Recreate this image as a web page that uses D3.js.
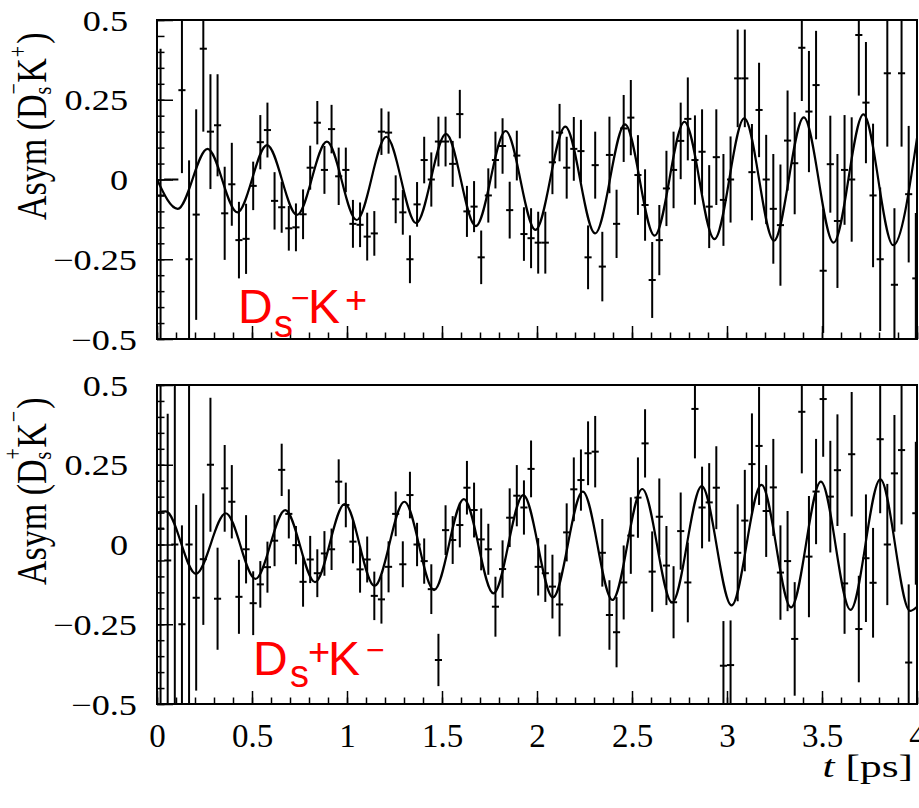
<!DOCTYPE html>
<html>
<head>
<meta charset="utf-8">
<script src="https://cdn.jsdelivr.net/npm/d3@7"></script>
<style>
  body { margin: 0; background: #fff; }
  svg { display: block; }
</style>
</head>
<body>
<div id="chart"></div>
<script>
// histogram binning: 0.0375 ps bins starting at t = 0
const binStart = 0;
const binWidth = 0.0375;

// Ds- K+ asymmetry per bin (value, error)
const dsmValues = [-0.05,0,0,0.28,-0.25,-0.11,0.41,0.15,0.17,-0.106,
  -0.015,-0.19,-0.186,-0.02,0.117,0.155,-0.067,-0.087,-0.153,-0.15,
  -0.109,0.037,0.178,0.03,0.158,0.01,0.03,-0.139,-0.142,-0.179,
  -0.169,0.15,0.147,-0.062,-0.103,-0.25,-0.078,0.061,0,0.119,
  0.119,0.049,0.205,-0.1,-0.085,-0.244,-0.05,0.061,0.105,-0.096,
  0.075,-0.171,-0.184,-0.198,-0.198,0.054,0.147,0.037,0.096,0.089,
  -0.244,0.045,-0.273,0.077,-0.139,0.16,0.194,0.014,-0.08,-0.315,
  -0.19,-0.028,0.03,0.121,0.19,0.061,0.087,-0.085,0.07,-0.064,
  0,0.317,0.317,0.023,0.218,0,-0.092,-0.143,0.122,0.051,
  0.413,0.213,0.296,-0.286,0.048,-0.13,0.03,0,0.453,0.241,
  -0.05,-0.25,0.333,-0.33,0.333,-0.046,-0.31];
const dsmErrors = [0.46,0,0,0.26,0.31,0.33,0.26,0.18,0.16,0.146,
  0.13,0.12,0.11,0.076,0.085,0.086,0.09,0.08,0.07,0.075,
  0.078,0.069,0.068,0.075,0.076,0.09,0.07,0.075,0.07,0.075,
  0.07,0.073,0.066,0.075,0.07,0.075,0.07,0.073,0.085,0.078,
  0.078,0.072,0.076,0.08,0.08,0.084,0.085,0.089,0.087,0.089,
  0.078,0.084,0.094,0.097,0.097,0.1,0.09,0.097,0.1,0.098,
  0.1,0.105,0.109,0.12,0.107,0.105,0.118,0.125,0.112,0.119,
  0.11,0.118,0.12,0.12,0.13,0.14,0.133,0.13,0.15,0.144,
  0.135,0.153,0.153,0.151,0.148,0.14,0.172,0.19,0.157,0.16,
  0.167,0.19,0.17,0.195,0.152,0.21,0.172,0.195,0.19,0.19,
  0.225,0.225,0.23,0.24,0.23,0.214,0.205];

// Ds+ K- asymmetry per bin (value, error)
const dspValues = [0.05,-0.05,0,-0.25,0,-0.167,-0.046,0.25,-0.17,0.176,
  0.134,-0.164,-0.015,-0.184,-0.125,-0.071,0.012,0.234,0.096,-0.002,
  -0.117,-0.047,-0.09,-0.028,-0.015,0.197,0.124,0.009,-0.078,-0.047,
  -0.161,-0.172,-0.07,0.096,-0.062,0.155,0,-0.052,-0.14,-0.362,
  0.045,0.014,0.061,0.178,0.108,0.016,-0.015,-0.195,-0.077,0.084,
  0.153,0.116,0.237,-0.07,-0.09,-0.132,-0.188,0.038,0.173,0.202,
  0.286,0.291,-0.026,-0.221,-0.275,-0.119,0.028,0.147,0.317,-0.085,
  0.087,-0.066,-0.181,0.042,-0.119,0.425,0.116,0.132,0.178,-0.38,
  -0.378,-0.026,0.075,0.252,0.309,0.105,0.179,-0.088,-0.052,-0.296,
  0.416,-0.038,0.166,0.456,0.15,0.233,-0.122,0.283,-0.265,-0.043,
  -0.12,0.33,0,0.223,0.296,-0.37,0.098];
const dspErrors = [0.6,0.46,0.6,0.31,0.6,0.291,0.206,0.21,0.16,0.136,
  0.115,0.116,0.107,0.1,0.073,0.08,0.08,0.082,0.077,0.06,
  0.078,0.074,0.075,0.07,0.065,0.07,0.07,0.068,0.073,0.072,
  0.076,0.076,0.08,0.07,0.072,0.073,0.068,0.071,0.078,0.082,
  0.078,0.075,0.07,0.084,0.086,0.097,0.08,0.094,0.09,0.092,
  0.096,0.085,0.089,0.09,0.09,0.1,0.1,0.091,0.1,0.096,
  0.1,0.112,0.106,0.109,0.11,0.116,0.12,0.126,0.107,0.126,
  0.12,0.124,0.113,0.121,0.125,0.155,0.128,0.123,0.13,0.14,
  0.14,0.152,0.159,0.159,0.185,0.144,0.152,0.148,0.157,0.178,
  0.193,0.19,0.165,0.181,0.175,0.175,0.158,0.195,0.167,0.2,
  0.172,0.232,0.19,0.183,0.233,0.245,0.224];

// fit curves, read at start, turning points and end
const dsmFitT = [0,0.109,0.266,0.423,0.579,0.737,0.894,1.051,1.207,1.364,1.521,1.678,1.835,
  1.992,2.149,2.306,2.463,2.619,2.776,2.934,3.091,3.247,3.404,3.561,3.718,3.875,4.0];
const dsmFitA = [0,-0.092,0.096,-0.103,0.108,-0.111,0.119,-0.127,0.134,-0.137,0.143,-0.146,0.152,
  -0.158,0.166,-0.169,0.173,-0.176,0.181,-0.187,0.192,-0.192,0.195,-0.198,0.204,-0.206,0.13];
const dspFitT = [0,0.047,0.205,0.362,0.518,0.675,0.832,0.988,1.145,1.302,1.458,1.615,1.771,1.928,
  2.084,2.241,2.397,2.554,2.711,2.867,3.024,3.181,3.337,3.494,3.650,3.807,3.963,4.0];
const dspFitA = [0.10,0.104,-0.092,0.098,-0.108,0.108,-0.118,0.127,-0.130,0.134,-0.143,0.142,-0.153,0.155,
  -0.166,0.166,-0.174,0.174,-0.182,0.183,-0.191,0.187,-0.197,0.197,-0.205,0.204,-0.208,-0.195];

const xDomain = [0, 4];
const yDomain = [-0.5, 0.5];
const yMajorTicks = [-0.5, -0.25, 0, 0.25, 0.5];

const serif = "'Liberation Serif', 'Times New Roman', serif";
const sans = "'Liberation Sans', Arial, sans-serif";

const svg = d3.select("#chart")
    .append("svg")
    .attr("width", 919)
    .attr("height", 808);

const x = d3.scaleLinear().domain(xDomain).range([157, 917]);
const fmt = d3.format("~g");

const panels = [
    {
        top: 20, values: dsmValues, errors: dsmErrors, fitT: dsmFitT, fitA: dsmFitA,
        title: [
            {t: "Asym (D", s: 34},
            {t: "\u2212", s: 20, dy: -19},
            {t: "s", s: 20, dx: -11.3, dy: 23},
            {t: "K", s: 34, dx: 4, dy: -4},
            {t: "+", s: 20, dx: 1, dy: -16},
            {t: ")", s: 34, dx: 2, dy: 16}
        ],
        label: [
            {t: "D", s: 48, x: 238, y: 323},
            {t: "s", s: 38, x: 274, y: 337},
            {t: "\u2212", s: 32, x: 291, y: 309},
            {t: "K", s: 48, x: 308, y: 323},
            {t: "+", s: 38, x: 345, y: 313}
        ],
        xLabels: false
    },
    {
        top: 385, values: dspValues, errors: dspErrors, fitT: dspFitT, fitA: dspFitA,
        title: [
            {t: "Asym (D", s: 34},
            {t: "+", s: 20, dy: -20},
            {t: "s", s: 20, dx: -11.3, dy: 24},
            {t: "K", s: 34, dx: 4, dy: -4},
            {t: "\u2212", s: 20, dx: 1, dy: -19},
            {t: ")", s: 34, dx: 2, dy: 19}
        ],
        label: [
            {t: "D", s: 48, x: 253, y: 675},
            {t: "s", s: 38, x: 290, y: 687},
            {t: "+", s: 38, x: 308, y: 665},
            {t: "K", s: 48, x: 328, y: 675},
            {t: "\u2212", s: 32, x: 366, y: 661}
        ],
        xLabels: true
    }
];

panels.forEach((p, pi) => {
    const bottom = p.top + 319;
    const y = d3.scaleLinear().domain(yDomain).range([bottom, p.top]);

    svg.append("clipPath")
        .attr("id", "clip" + pi)
        .append("rect")
        .attr("x", x(xDomain[0]))
        .attr("y", p.top)
        .attr("width", x(xDomain[1]) - x(xDomain[0]))
        .attr("height", bottom - p.top);

    const plot = svg.append("g").attr("clip-path", `url(#clip${pi})`);

    const bins = p.values.map((v, i) => ({
        lo: binStart + i * binWidth,
        hi: binStart + (i + 1) * binWidth,
        v: v,
        e: p.errors[i]
    }));

    // error bars
    plot.selectAll(".ebar")
        .data(bins.filter(d => d.e > 0))
        .enter()
        .append("line")
        .attr("class", "ebar")
        .attr("x1", d => x((d.lo + d.hi) / 2))
        .attr("x2", d => x((d.lo + d.hi) / 2))
        .attr("y1", d => y(d.v + d.e))
        .attr("y2", d => y(d.v - d.e))
        .attr("stroke", "#000")
        .attr("stroke-width", 2);

    // bin width markers
    plot.selectAll(".hbar")
        .data(bins)
        .enter()
        .append("line")
        .attr("class", "hbar")
        .attr("x1", d => x(d.lo))
        .attr("x2", d => x(d.hi))
        .attr("y1", d => y(d.v))
        .attr("y2", d => y(d.v))
        .attr("stroke", "#000")
        .attr("stroke-width", 2);

    // fit curve
    const fit = p.fitT.map((t, i) => [t, p.fitA[i]]);
    plot.append("path")
        .datum(fit)
        .attr("d", d3.line()
            .x(d => x(d[0]))
            .y(d => y(d[1]))
            .curve(d3.curveMonotoneX))
        .attr("fill", "none")
        .attr("stroke", "#000")
        .attr("stroke-width", 2.2);

    // y axis: major + minor ticks pointing inwards
    const gy = svg.append("g")
        .attr("transform", `translate(${x(xDomain[0])},0)`)
        .call(d3.axisLeft(y).tickValues(yMajorTicks).tickFormat(fmt).tickSize(-16).tickPadding(0));
    gy.select(".domain").remove();
    gy.selectAll(".tick line").attr("stroke-width", 1.5);
    gy.selectAll(".tick text")
        .attr("x", 0)
        .attr("dy", "0.35em")
        .attr("text-anchor", "end")
        .attr("transform", d => `translate(${d < 0 ? -20 : -29},0) scale(1.25,1)`)
        .style("font-family", serif)
        .style("font-size", "29px")
        .style("fill", "#000");

    const gyMinor = svg.append("g")
        .attr("transform", `translate(${x(xDomain[0])},0)`)
        .call(d3.axisLeft(y).ticks(20).tickFormat("").tickSize(-7.5));
    gyMinor.select(".domain").remove();
    gyMinor.selectAll(".tick line").attr("stroke-width", 1.5);

    // x axis: ticks pointing up
    const gx = svg.append("g")
        .attr("transform", `translate(0,${bottom})`)
        .call(d3.axisBottom(x).ticks(8).tickFormat(p.xLabels ? fmt : "").tickSize(-13).tickPadding(20));
    gx.select(".domain").remove();
    gx.selectAll(".tick line").attr("stroke-width", 1.5);
    gx.selectAll(".tick text")
        .style("font-family", serif)
        .style("font-size", "33px")
        .style("fill", "#000");

    const gxMinor = svg.append("g")
        .attr("transform", `translate(0,${bottom})`)
        .call(d3.axisBottom(x).ticks(40).tickFormat("").tickSize(-6.5));
    gxMinor.select(".domain").remove();
    gxMinor.selectAll(".tick line").attr("stroke-width", 1.5);

    // frame
    svg.append("rect")
        .attr("x", x(xDomain[0]))
        .attr("y", p.top)
        .attr("width", x(xDomain[1]) - x(xDomain[0]))
        .attr("height", bottom - p.top)
        .attr("fill", "none")
        .attr("stroke", "#000")
        .attr("stroke-width", 2);

    // y title (rotated, reading upwards, glyphs widened like the original)
    const title = svg.append("text")
        .attr("transform", `translate(46,${p.top + 200}) rotate(-90) scale(1,1.25)`)
        .attr("text-anchor", "start")
        .style("font-family", serif)
        .style("fill", "#000");
    p.title.forEach(seg => {
        title.append("tspan")
            .attr("dx", seg.dx || 0)
            .attr("dy", seg.dy || 0)
            .style("font-size", seg.s + "px")
            .text(seg.t);
    });

    // red decay-mode label
    p.label.forEach(seg => {
        svg.append("text")
            .attr("x", seg.x)
            .attr("y", seg.y)
            .style("font-family", sans)
            .style("font-size", seg.s + "px")
            .style("fill", "#ff0000")
            .text(seg.t);
    });
});

// x axis title
const xt = svg.append("text")
    .attr("transform", "translate(913,777) scale(1.4,1)")
    .attr("text-anchor", "end")
    .style("font-family", serif)
    .style("font-size", "31px")
    .style("fill", "#000");
xt.append("tspan").style("font-style", "italic").text("t");
xt.append("tspan").text(" [ps]");
</script>
</body>
</html>
